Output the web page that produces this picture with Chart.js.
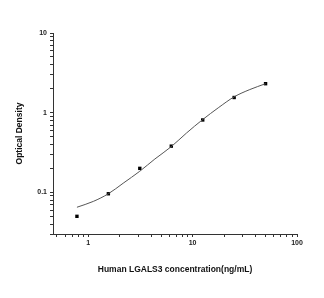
<!DOCTYPE html>
<html>
<head>
<meta charset="utf-8">
<script src="https://cdn.jsdelivr.net/npm/chart.js@4/dist/chart.umd.min.js"></script>
<style>
  html, body { margin: 0; padding: 0; background: #fff; }
  #wrap { width: 324px; height: 298px; }
</style>
</head>
<body>
<div id="wrap"><canvas id="elisaChart" width="324" height="298"></canvas></div>
<script>
// measured standards
const concentration = [0.78, 1.56, 3.12, 6.25, 12.5, 25, 50];
const density = [0.05, 0.096, 0.2, 0.38, 0.81, 1.55, 2.31];

// fitted curve
const curveX = [0.78, 1.12, 1.56, 2.16, 3.12, 4.35, 6.25, 8.74, 12.5, 17.6, 25, 35.3, 50];
const curveY = [0.065, 0.077, 0.096, 0.13, 0.184, 0.262, 0.375, 0.555, 0.82, 1.15, 1.58, 1.95, 2.31];

const xTicks = [0.5, 0.6, 0.7, 0.8, 0.9, 1, 2, 3, 4, 5, 6, 7, 8, 9, 10, 20, 30, 40, 50, 60, 70, 80, 90, 100];
const yTicks = [0.03, 0.04, 0.05, 0.06, 0.07, 0.08, 0.09, 0.1, 0.2, 0.3, 0.4, 0.5, 0.6, 0.7, 0.8, 0.9, 1, 2, 3, 4, 5, 6, 7, 8, 9, 10];
const xLabels = { 1: '1', 10: '10', 100: '100' };
const yLabels = { 0.1: '0.1', 1: '1', 10: '10' };

const FONT = 'Liberation Sans, Arial, sans-serif';

const ctx = document.getElementById('elisaChart').getContext('2d');
new Chart(ctx, {
    type: 'scatter',
    data: {
        datasets: [
            {
                label: 'Curve',
                data: curveX.map((x, i) => ({ x: x, y: curveY[i] })),
                showLine: true,
                cubicInterpolationMode: 'monotone',
                borderColor: '#555',
                borderWidth: 1,
                pointRadius: 0
            },
            {
                label: 'Standards',
                data: concentration.map((x, i) => ({ x: x, y: density[i] })),
                pointStyle: 'rect',
                pointRadius: 2.4,
                backgroundColor: '#000',
                borderColor: '#000',
                borderWidth: 0
            }
        ]
    },
    options: {
        responsive: false,
        animation: false,
        layout: { padding: { top: 33, right: 27, left: 0, bottom: 0 } },
        plugins: { legend: { display: false }, tooltip: { enabled: false } },
        scales: {
            x: {
                type: 'logarithmic',
                min: 0.46,
                max: 100,
                afterBuildTicks: s => { s.ticks = xTicks.map(v => ({ value: v })); },
                afterFit: s => { s.height = 64; },
                grid: { drawOnChartArea: false, drawTicks: true, tickLength: 3, color: '#333' },
                border: { color: '#333', width: 1 },
                ticks: {
                    autoSkip: false,
                    maxRotation: 0,
                    padding: 2,
                    color: '#222',
                    font: { family: FONT, size: 7, weight: 'bold' },
                    callback: v => xLabels[v] || ''
                },
                title: {
                    display: true,
                    text: 'Human LGALS3 concentration(ng/mL)',
                    color: '#111',
                    font: { family: FONT, size: 8.5, weight: 'bold' },
                    padding: { top: 0, bottom: 23 }
                }
            },
            y: {
                type: 'logarithmic',
                min: 0.03,
                max: 10,
                afterBuildTicks: s => { s.ticks = yTicks.map(v => ({ value: v })); },
                afterFit: s => { s.width = 53; },
                grid: { drawOnChartArea: false, drawTicks: true, tickLength: 3, color: '#333' },
                border: { color: '#333', width: 1 },
                ticks: {
                    autoSkip: false,
                    padding: 3,
                    color: '#222',
                    font: { family: FONT, size: 7, weight: 'bold' },
                    callback: v => yLabels[v] || ''
                },
                title: {
                    display: true,
                    text: 'Optical Density',
                    color: '#111',
                    font: { family: FONT, size: 8.5, weight: 'bold' },
                    padding: { top: 15, bottom: 0 }
                }
            }
        }
    }
});
</script>
</body>
</html>
